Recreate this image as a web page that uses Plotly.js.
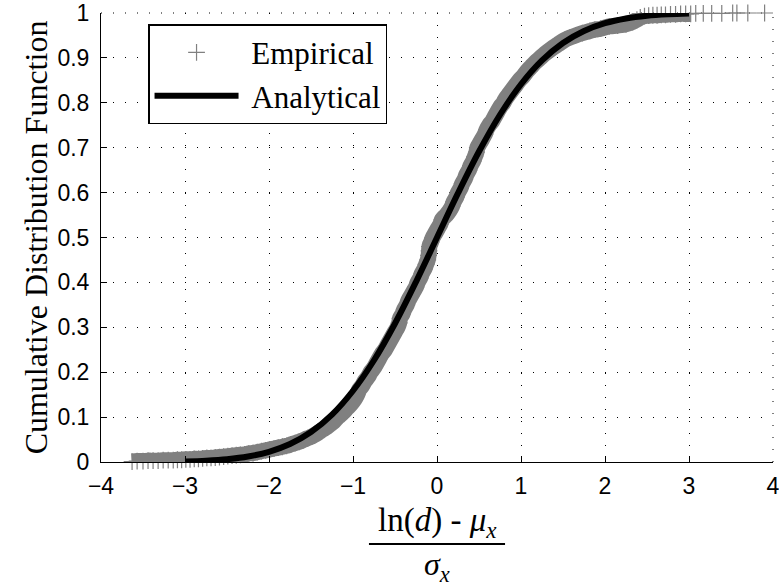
<!DOCTYPE html>
<html>
<head>
<meta charset="utf-8">
<script src="https://cdn.plot.ly/plotly-3.0.1.min.js"></script>
<style>html,body{margin:0;padding:0;background:#fff}#chart{width:779px;height:586px}</style>
</head>
<body>
<div id="chart"></div>
<script>
// Empirical CDF points
var empX = [-3.63,-3.57,-3.50,-3.44,-3.38,-3.32,-3.26,-3.20,-3.14,-3.09,-3.04,-2.99,-2.94,-2.89,-2.84,-2.79,-2.74,-2.69,-2.64,-2.59,-2.54,-2.49,-2.44,-2.39,-2.34,-2.29,-2.24,-2.19,-2.14,-2.09,-2.04,-1.99,-1.94,-1.89,-1.84,-1.79,-1.74,-1.69,-1.64,-1.59,-1.54,-1.49,-1.44,-1.40,-1.36,-1.31,-1.27,-1.23,-1.18,-1.12,-1.07,-1.02,-0.98,-0.95,-0.93,-0.89,-0.86,-0.82,-0.79,-0.75,-0.72,-0.69,-0.66,-0.62,-0.59,-0.56,-0.53,-0.50,-0.47,-0.45,-0.44,-0.41,-0.39,-0.36,-0.34,-0.31,-0.28,-0.25,-0.23,-0.20,-0.18,-0.15,-0.13,-0.11,-0.10,-0.095,-0.09,-0.07,-0.05,-0.02,0.01,0.04,0.06,0.11,0.15,0.18,0.20,0.23,0.25,0.28,0.30,0.33,0.35,0.38,0.40,0.43,0.45,0.47,0.48,0.51,0.54,0.57,0.59,0.62,0.66,0.69,0.72,0.75,0.79,0.82,0.86,0.90,0.94,0.98,1.03,1.07,1.12,1.17,1.23,1.29,1.36,1.44,1.52,1.58,1.65,1.73,1.82,1.88,1.95,2.05,2.15,2.25,2.33,2.38,2.42,2.47,2.52,2.57,2.62,2.67,2.72,2.78,2.84,2.90,2.96,3.02,3.08,3.17,3.27,3.39,3.52,3.57,3.70,3.90];
var empY = [0.001,0.002,0.002,0.003,0.003,0.003,0.004,0.004,0.004,0.005,0.005,0.006,0.006,0.007,0.007,0.008,0.009,0.009,0.010,0.011,0.012,0.013,0.014,0.015,0.016,0.017,0.019,0.020,0.022,0.024,0.026,0.028,0.030,0.032,0.034,0.036,0.039,0.042,0.045,0.049,0.053,0.057,0.062,0.067,0.072,0.078,0.084,0.090,0.100,0.110,0.120,0.130,0.140,0.150,0.160,0.170,0.180,0.190,0.200,0.210,0.220,0.230,0.240,0.250,0.260,0.270,0.280,0.290,0.300,0.310,0.320,0.330,0.340,0.350,0.360,0.370,0.380,0.390,0.400,0.410,0.420,0.430,0.440,0.450,0.460,0.470,0.480,0.490,0.500,0.510,0.520,0.530,0.540,0.550,0.560,0.570,0.580,0.590,0.600,0.610,0.620,0.630,0.640,0.650,0.660,0.670,0.680,0.690,0.700,0.710,0.720,0.730,0.740,0.750,0.760,0.770,0.780,0.790,0.800,0.810,0.820,0.830,0.840,0.850,0.860,0.870,0.880,0.890,0.900,0.910,0.920,0.930,0.940,0.945,0.950,0.955,0.960,0.963,0.965,0.970,0.972,0.975,0.980,0.985,0.990,0.993,0.994,0.995,0.995,0.996,0.996,0.997,0.997,0.998,0.998,0.998,0.999,0.999,0.999,0.999,1.000,1.000,1.000,1.000];

// Analytical (normal) CDF
var anX = [-3,-2.75,-2.5,-2.25,-2,-1.75,-1.5,-1.25,-1,-0.75,-0.5,-0.25,0,0.25,0.5,0.75,1,1.25,1.5,1.75,2,2.25,2.5,2.75,3];
var anY = [0.0013,0.0030,0.0062,0.0122,0.0228,0.0401,0.0668,0.1056,0.1587,0.2266,0.3085,0.4013,0.5,0.5987,0.6915,0.7734,0.8413,0.8944,0.9332,0.9599,0.9772,0.9878,0.9938,0.9970,0.9987];

var xTicks = [-4,-3,-2,-1,0,1,2,3,4];
var yTicks = [0,0.1,0.2,0.3,0.4,0.5,0.6,0.7,0.8,0.9,1];

// dense part of the empirical markers (where they merge into a solid band)
var bandX = [], bandY = [];
for (var i = 0; i < empX.length; i++) {
  if (empX[i] <= 3.05) { bandX.push(empX[i]); bandY.push(empY[i]); }
}

var GREY = '#808080';
var NB = '\u00a0';
var traces = [
  {x: bandX, y: bandY, type: 'scatter', mode: 'lines', line: {color: GREY, width: 16, shape: 'spline'},
   showlegend: false, hoverinfo: 'skip'},
  {x: empX, y: empY, type: 'scatter', mode: 'markers', name: NB + 'Empirical', cliponaxis: false,
   marker: {symbol: 'cross-thin-open', size: 12, color: GREY, line: {color: GREY, width: 1.2}}},
  {x: anX, y: anY, type: 'scatter', mode: 'lines', name: NB + 'Analytical',
   line: {color: '#000', width: 6, shape: 'spline'}}
];

var tickFont = {family: 'Liberation Sans, Arial, sans-serif', size: 23, color: '#000'};
var serif = 'Liberation Serif, Times New Roman, serif';
var dotted = '1px,11px';

var layout = {
  width: 779, height: 586,
  margin: {l: 101, r: 6, t: 13, b: 124},
  paper_bgcolor: '#fff', plot_bgcolor: '#fff',
  showlegend: true,
  xaxis: {
    range: [-4, 4], tickmode: 'array', tickvals: xTicks,
    ticks: 'inside', ticklen: 6, tickwidth: 1, tickcolor: '#000',
    showline: true, linecolor: '#000', linewidth: 1, mirror: false,
    showgrid: true, gridcolor: '#000', gridwidth: 1, griddash: dotted,
    zeroline: false, tickfont: tickFont, ticklabelstandoff: 3, ticklabeloverflow: 'allow'
  },
  yaxis: {
    range: [0, 1], tickmode: 'array', tickvals: yTicks,
    ticks: 'inside', ticklen: 6, tickwidth: 1, tickcolor: '#000',
    showline: true, linecolor: '#000', linewidth: 1, mirror: false,
    showgrid: true, gridcolor: '#000', gridwidth: 1, griddash: dotted,
    zeroline: false, tickfont: tickFont, ticklabelstandoff: 6, ticklabeloverflow: 'allow',
    title: {text: 'Cumulative Distribution Function', font: {family: serif, size: 32, color: '#000'}, standoff: 0}
  },
  legend: {
    x: 0.07, y: 0.975, xanchor: 'left', yanchor: 'top',
    bgcolor: '#fff', bordercolor: '#000', borderwidth: 1.5,
    font: {family: serif, size: 31, color: '#000'},
    itemwidth: 84, traceorder: 'normal'
  },
  annotations: [
    {xref: 'x', yref: 'paper', x: 0, y: -0.134, xanchor: 'center', yanchor: 'middle', showarrow: false,
     text: 'ln(<i>d</i>) - <i>μ</i><sub><i>x</i></sub>', font: {family: serif, size: 33, color: '#000'}},
    {xref: 'x', yref: 'paper', x: 0, y: -0.232, xanchor: 'center', yanchor: 'middle', showarrow: false,
     text: '<i>σ</i><sub><i>x</i></sub>', font: {family: serif, size: 32, color: '#000'}}
  ],
  shapes: [
    {type: 'line', xref: 'x', yref: 'paper', x0: -0.81, x1: 0.81, y0: -0.1826, y1: -0.1826,
     line: {color: '#000', width: 2}},
    {type: 'line', xref: 'paper', yref: 'paper', x0: 0, x1: 1, y0: 1, y1: 1, layer: 'below',
     line: {color: '#000', width: 1, dash: dotted}},
    {type: 'line', xref: 'paper', yref: 'paper', x0: 1, x1: 1, y0: 0, y1: 1, layer: 'below',
     line: {color: '#000', width: 1, dash: dotted}}
  ]
};

Plotly.newPlot('chart', traces, layout, {displayModeBar: false, staticPlot: true});
</script>
</body>
</html>
